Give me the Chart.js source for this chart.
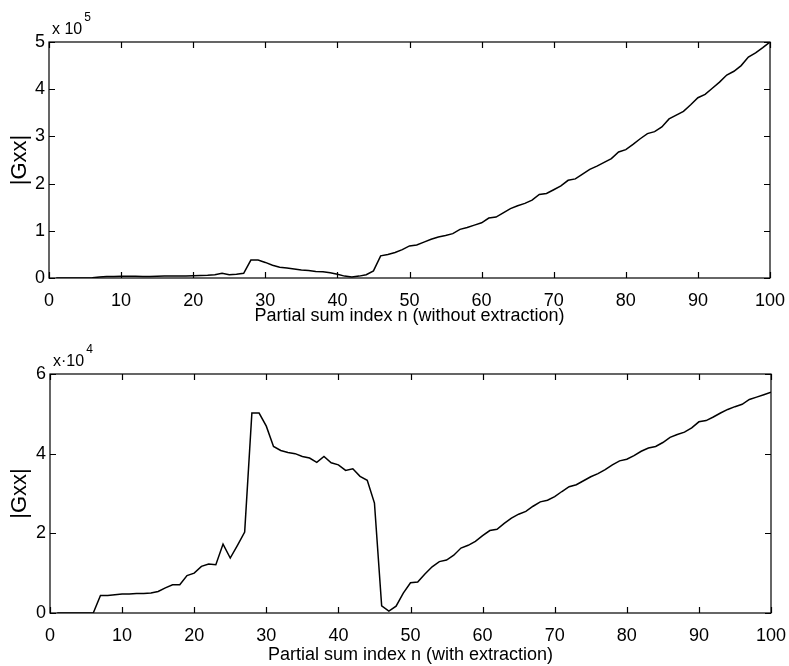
<!DOCTYPE html>
<html>
<head>
<meta charset="utf-8">
<script src="https://cdn.jsdelivr.net/npm/chart.js@4.4.1/dist/chart.umd.min.js"></script>
<style>
  html, body { margin: 0; padding: 0; background: #fff; overflow: hidden; }
  #wrap { position: relative; width: 789px; height: 666px; }
  .box { position: absolute; left: 0; width: 789px; }
  .box canvas { display: block; }
  #b1 { top: 0; height: 330px; }
  #b2 { top: 330px; height: 336px; }
</style>
</head>
<body>
<div id="wrap">
  <div class="box" id="b1"><canvas id="c1"></canvas></div>
  <div class="box" id="b2"><canvas id="c2"></canvas></div>
</div>
<script>
// ---- data ----
const n = [1,2,3,4,5,6,7,8,9,10,11,12,13,14,15,16,17,18,19,20,
  21,22,23,24,25,26,27,28,29,30,31,32,33,34,35,36,37,38,39,40,
  41,42,43,44,45,46,47,48,49,50,51,52,53,54,55,56,57,58,59,60,
  61,62,63,64,65,66,67,68,69,70,71,72,73,74,75,76,77,78,79,80,
  81,82,83,84,85,86,87,88,89,90,91,92,93,94,95,96,97,98,99,100];

// |Gxx| without extraction, in units of 10^5
const gxxWithout = [0,0,0,0,0,0.005,0.02,0.03,0.03,0.035,
  0.035,0.035,0.03,0.03,0.035,0.04,0.04,0.04,0.045,0.05,
  0.055,0.06,0.07,0.1,0.07,0.08,0.1,0.38,0.38,0.33,
  0.27,0.23,0.21,0.19,0.17,0.16,0.14,0.13,0.11,0.08,
  0.04,0.02,0.04,0.07,0.15,0.47,0.5,0.54,0.6,0.68,
  0.7,0.76,0.82,0.87,0.9,0.94,1.03,1.07,1.12,1.17,
  1.27,1.29,1.38,1.47,1.53,1.58,1.65,1.77,1.79,1.87,
  1.95,2.07,2.1,2.2,2.3,2.37,2.45,2.53,2.67,2.72,
  2.83,2.95,3.06,3.1,3.2,3.37,3.45,3.53,3.67,3.82,
  3.89,4.02,4.15,4.3,4.38,4.5,4.68,4.77,4.88,5.0];

// |Gxx| with extraction, in units of 10^4
const gxxWith = [0,0,0,0,0,0,0.44,0.44,0.46,0.48,
  0.48,0.49,0.49,0.5,0.54,0.63,0.71,0.71,0.94,1.0,
  1.17,1.23,1.21,1.73,1.38,1.7,2.03,5.02,5.02,4.69,
  4.18,4.08,4.03,4.0,3.93,3.89,3.78,3.93,3.77,3.72,
  3.58,3.62,3.43,3.33,2.76,0.18,0.05,0.17,0.5,0.76,
  0.78,0.98,1.16,1.29,1.33,1.45,1.63,1.7,1.8,1.94,
  2.07,2.1,2.25,2.38,2.48,2.55,2.68,2.79,2.83,2.92,
  3.05,3.17,3.22,3.32,3.42,3.5,3.6,3.72,3.82,3.86,
  3.95,4.06,4.14,4.18,4.28,4.41,4.48,4.54,4.65,4.8,
  4.83,4.92,5.02,5.11,5.18,5.24,5.36,5.42,5.48,5.54];

const xTicks = [0,10,20,30,40,50,60,70,80,90,100];
const yTicksTop = [0,1,2,3,4,5];
const yTicksBottom = [0,2,4,6];
const xTitleTop = 'Partial sum index n (without extraction)';
const xTitleBottom = 'Partial sum index n (with extraction)';
const yTitle = '|Gxx|';

// ---- rendering ----
const FONT = '"Liberation Sans", Arial, Helvetica, sans-serif';

const frameTicks = {
  id: 'frameTicks',
  afterDatasetsDraw(chart, args, opts) {
    const {ctx, chartArea: {left, right, top, bottom}, scales: {x, y}} = chart;
    ctx.save();
    ctx.strokeStyle = '#000';
    ctx.lineWidth = 1.2;
    ctx.strokeRect(left, top, right - left, bottom - top);
    const L = 6;
    ctx.beginPath();
    x.ticks.forEach(t => {
      const px = Math.round(x.getPixelForValue(t.value)) + 0.5;
      ctx.moveTo(px, bottom); ctx.lineTo(px, bottom - L);
      ctx.moveTo(px, top); ctx.lineTo(px, top + L);
    });
    y.ticks.forEach(t => {
      const py = Math.round(y.getPixelForValue(t.value)) + 0.5;
      ctx.moveTo(left, py); ctx.lineTo(left + L, py);
      ctx.moveTo(right, py); ctx.lineTo(right - L, py);
    });
    ctx.stroke();
    // exponent label
    ctx.fillStyle = '#000';
    ctx.textBaseline = 'alphabetic';
    ctx.textAlign = 'left';
    ctx.font = '16px ' + FONT;
    ctx.fillText(opts.base, left + 3, top - 8);
    const w = ctx.measureText(opts.base).width;
    ctx.font = '12px ' + FONT;
    ctx.fillText(opts.exp, left + 5 + w, top - 21);
    ctx.restore();
  }
};

function makeChart(id, vals, yTicks, yMax, base, exp, xTitle, padTop, padRight, xH, yW, titleBottomPad) {
  return new Chart(document.getElementById(id), {
    type: 'line',
    data: {
      datasets: [{
        data: n.map((v, i) => ({x: v, y: vals[i]})),
        borderColor: '#000',
        borderWidth: 1.5,
        pointRadius: 0,
        tension: 0,
        fill: false
      }]
    },
    options: {
      responsive: true,
      maintainAspectRatio: false,
      animation: false,
      layout: {padding: {top: padTop, right: padRight, left: 0, bottom: 0}},
      plugins: {
        legend: {display: false},
        tooltip: {enabled: false},
        frameTicks: {base: base, exp: exp}
      },
      scales: {
        x: {
          type: 'linear',
          min: 0, max: 100,
          afterBuildTicks: s => { s.ticks = xTicks.map(v => ({value: v})); },
          afterFit: s => { s.height = xH; s.paddingLeft = 0; s.paddingRight = 0; },
          grid: {drawOnChartArea: false, drawTicks: false},
          border: {display: false},
          ticks: {color: '#000', font: {family: FONT, size: 18}, padding: 12, maxRotation: 0},
          title: {display: true, text: xTitle, color: '#000',
                  font: {family: FONT, size: 18, lineHeight: 1.2},
                  padding: {top: 0, bottom: titleBottomPad}}
        },
        y: {
          type: 'linear',
          min: 0, max: yMax,
          afterBuildTicks: s => { s.ticks = yTicks.map(v => ({value: v})); },
          afterFit: s => { s.width = yW; s.paddingTop = 0; s.paddingBottom = 0; },
          grid: {drawOnChartArea: false, drawTicks: false},
          border: {display: false},
          ticks: {color: '#000', font: {family: FONT, size: 18}, padding: 4},
          title: {display: true, text: yTitle, color: '#000',
                  font: {family: FONT, size: 22, lineHeight: 1.2},
                  padding: {top: 7, bottom: 0}}
        }
      }
    },
    plugins: [frameTicks]
  });
}

makeChart('c1', gxxWithout, yTicksTop, 5, 'x 10', '5', xTitleTop, 42, 19, 52, 49, 3);
makeChart('c2', gxxWith, yTicksBottom, 6, 'x\u00b710', '4', xTitleBottom, 44, 18, 53, 50, 0);
</script>
</body>
</html>
